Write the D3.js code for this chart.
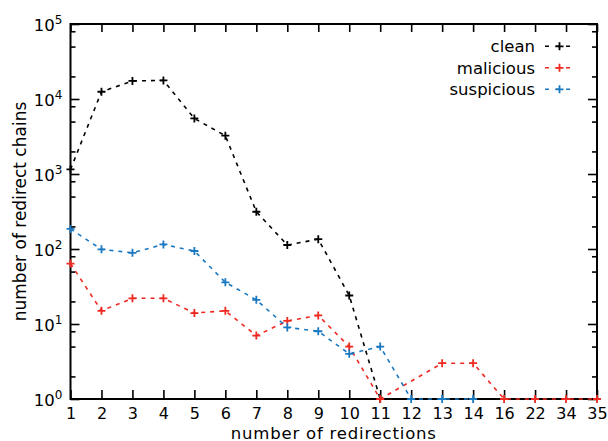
<!DOCTYPE html>
<html><head><meta charset="utf-8">
<script src="https://cdn.jsdelivr.net/npm/d3@7"></script>
<style>
html,body{margin:0;padding:0;background:#fff;}
svg text{font-family:"DejaVu Sans",Verdana,sans-serif;fill:#000;}
</style></head>
<body>
<svg id="c" width="608" height="441"></svg>
<script>
const categories = ["1","2","3","4","5","6","7","8","9","10","11","12","13","14","16","22","34","35"];
const clean      = [1150, 12500, 17400, 17700, 5500, 3240, 314, 113, 135, 24, 1, null, null, null, null, null, null, null];
const malicious  = [64, 15, 22, 22, 14, 15, 7, 11, 13, 5, 1, null, 3, 3, 1, 1, 1, 1];
const suspicious = [185, 99, 89, 115, 94, 36, 21, 9, 8, 4, 5, 1, 1, 1, null, null, null, null];
const seriesNames = ["clean","malicious","suspicious"];
const seriesColors = ["#000000","#ee2a22","#1a78c0"];
const majorTicks = [1,10,100,1000,10000,100000];
const minorTicks = [2,5,8,20,50,80,200,500,800,2000,5000,8000,20000,50000,80000];

const svg = d3.select("#c");
const L=70.5, R=597, T=24, B=399;
const x = d3.scalePoint().domain(categories).range([L, R]).padding(0);
const y = d3.scaleLog().domain([1, 1e5]).range([B, T]);

// axes
const gB = svg.append("g").attr("transform",`translate(0,${B})`)
  .call(d3.axisBottom(x).tickSizeInner(-9).tickSizeOuter(0).tickPadding(13));
gB.selectAll("text").attr("font-size","16px").attr("dy","0.71em").attr("y",8.5);
const gT = svg.append("g").attr("transform",`translate(0,${T})`)
  .call(d3.axisTop(x).tickSizeInner(-8).tickSizeOuter(0).tickFormat(""));
const gL = svg.append("g").attr("transform",`translate(${L},0)`)
  .call(d3.axisLeft(y).tickValues(majorTicks).tickSizeInner(-9).tickSizeOuter(0).tickFormat(""));
const gLm = svg.append("g").attr("transform",`translate(${L},0)`)
  .call(d3.axisLeft(y).tickValues(minorTicks).tickSizeInner(-5).tickSizeOuter(0).tickFormat(""));
const gR = svg.append("g").attr("transform",`translate(${R},0)`)
  .call(d3.axisRight(y).tickValues(majorTicks).tickSizeInner(-9).tickSizeOuter(0).tickFormat(""));
const gRm = svg.append("g").attr("transform",`translate(${R},0)`)
  .call(d3.axisRight(y).tickValues(minorTicks).tickSizeInner(-5).tickSizeOuter(0).tickFormat(""));
[gB,gT,gL,gLm,gR,gRm].forEach(g=>{
  g.select(".domain").remove();
  g.selectAll(".tick line").attr("stroke","#000").attr("stroke-width",1.6);
});
// y labels with superscripts
gL.selectAll(".tick").each(function(d){
  const t = d3.select(this).append("text").attr("x",-8).attr("y",6)
    .attr("text-anchor","end").attr("font-size","16.5px");
  t.append("tspan").text("10");
  t.append("tspan").attr("font-size","12px").attr("dy","-7").text(Math.round(Math.log10(d)));
});

// frame
svg.append("rect").attr("x",L).attr("y",T).attr("width",R-L).attr("height",B-T)
  .attr("fill","none").attr("stroke","#000").attr("stroke-width",2);

// series
const allSeries = [clean, malicious, suspicious];
const line = d3.line().x(d=>x(d.c)).y(d=>y(d.v));
const plus = "M-4,0H4M0,-4V4";
allSeries.forEach((vals,i)=>{
  const pts = categories.map((c,j)=>({c, v: vals[j]})).filter(d=>d.v!=null);
  svg.append("path").datum(pts).attr("d",line).attr("fill","none")
    .attr("stroke",seriesColors[i]).attr("stroke-width",1.6).attr("stroke-dasharray","4,5");
  svg.append("g").selectAll("path").data(pts).join("path")
    .attr("transform",d=>`translate(${x(d.c)},${y(d.v)})`).attr("d",plus)
    .attr("stroke",seriesColors[i]).attr("stroke-width",1.8).attr("fill","none");
});

// legend
const legY = [52.3, 73.8, 95.3];
seriesNames.forEach((n,i)=>{
  const g = svg.append("g");
  g.append("text").attr("x",535).attr("y",legY[i]).attr("text-anchor","end")
    .attr("font-size","16.5px").text(n);
  const yy = legY[i]-6;
  g.append("line").attr("x1",545).attr("x2",574).attr("y1",yy).attr("y2",yy)
    .attr("stroke",seriesColors[i]).attr("stroke-width",1.6).attr("stroke-dasharray","4,6.5");
  g.append("path").attr("transform",`translate(559.5,${yy})`).attr("d",plus)
    .attr("stroke",seriesColors[i]).attr("stroke-width",1.8);
});

// titles
svg.append("text").attr("x",(L+R)/2).attr("y",438.5).attr("text-anchor","middle")
  .attr("font-size","16.5px").attr("letter-spacing","0.8px").text("number of redirections");
svg.append("text").attr("transform",`translate(26,${(T+B)/2}) rotate(-90)`)
  .attr("text-anchor","middle").attr("font-size","17px").text("number of redirect chains");
</script>
</body></html>
